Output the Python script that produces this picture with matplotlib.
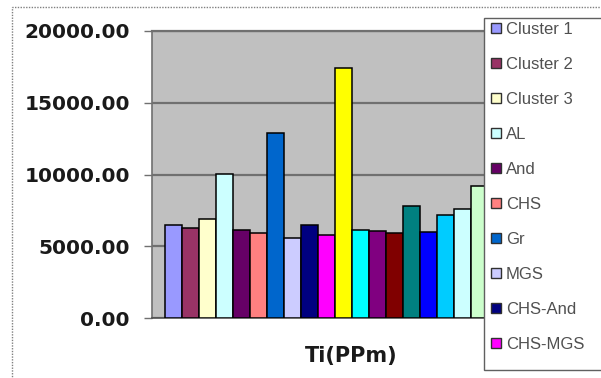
import matplotlib
matplotlib.use("Agg")
import matplotlib.pyplot as plt
from matplotlib.patches import Rectangle
from matplotlib.lines import Line2D

plt.rcParams['font.family'] = ['Liberation Sans', 'DejaVu Sans']

# Data
labels = ["Cluster 1", "Cluster 2", "Cluster 3", "AL", "And", "CHS", "Gr", "MGS",
          "CHS-And", "CHS-MGS", "s11", "s12", "s13", "s14", "s15", "s16", "s17", "s18", "s19"]
values = [6450, 6300, 6900, 10050, 6100, 5900, 12900, 5600, 6500, 5800,
          17450, 6150, 6080, 5950, 7800, 6000, 7200, 7600, 9200]
colors = ["#9999FF", "#993366", "#FFFFCC", "#CCFFFF", "#660066", "#FF8080", "#0066CC",
          "#CCCCFF", "#000080", "#FF00FF", "#FFFF00", "#00FFFF", "#800080", "#800000",
          "#008080", "#0000FF", "#00CCFF", "#CCFFFF", "#CCFFCC"]
legend_labels = labels[:10]
yticks = [0, 5000, 10000, 15000, 20000]
xlabel = "Ti(PPm)"

W, H = 601, 378
fig = plt.figure(figsize=(W / 100, H / 100), dpi=100)

# axes in pixel coords
axL, axR, axT, axB = 152, 550, 31, 318
ax = fig.add_axes([axL / W, 1 - axB / H, (axR - axL) / W, (axB - axT) / H])
ax.set_facecolor("#C0C0C0")

xs = list(range(len(values)))
ax.bar(xs, values, width=1.0, color=colors, edgecolor="black", linewidth=1.1, zorder=3)

# x-range: first bar centre at 173.5 px, 17 px per bar
px_per = 17.0
x0 = (axL - 173.5) / px_per
x1 = (axR - 173.5) / px_per
ax.set_xlim(x0, x1)
ax.set_ylim(0, 20000)
ax.set_yticks(yticks)
ax.set_yticklabels([f"{v:.2f}" for v in yticks], fontsize=14.5, fontweight="bold",
                   color="#1a1a1a", family="DejaVu Sans")
ax.set_xticks([])
ax.yaxis.grid(True, color="#707070", linewidth=1.6, zorder=1)
ax.set_axisbelow(True)
ax.tick_params(axis="y", direction="out", length=6, width=1.0, color="#707070", pad=10)
ax.spines["top"].set_color("#707070")
ax.spines["top"].set_linewidth(1.6)
ax.spines["right"].set_visible(False)
ax.spines["left"].set_color("#707070")
ax.spines["left"].set_linewidth(1.2)
ax.spines["bottom"].set_color("#505050")
ax.spines["bottom"].set_linewidth(1.2)
ax.set_xlabel(xlabel, fontsize=15, fontweight="bold", color="#1a1a1a",
              labelpad=20, family="DejaVu Sans")

# legend box (figure-level, covering part of plot area)
lx0, ly0, lx1, ly1 = 484, 18, 612, 370
fig.patches.append(Rectangle((lx0 / W, 1 - ly1 / H), (lx1 - lx0) / W, (ly1 - ly0) / H,
                             transform=fig.transFigure, facecolor="white",
                             edgecolor="#606060", linewidth=1.0, zorder=4))
handles = [Line2D([], [], marker="s", linestyle="none", markersize=6.5,
                  markerfacecolor=c, markeredgecolor="#303030", markeredgewidth=1.0)
           for c in colors[:10]]
leg = fig.legend(handles, legend_labels, loc="upper left",
                 bbox_to_anchor=((lx0 + 1) / W, 1 - (ly0 - 1) / H),
                 frameon=False, fontsize=12, labelspacing=1.2,
                 handlelength=0.7, handletextpad=0.25, borderaxespad=0, borderpad=0.3)
for t in leg.get_texts():
    t.set_color("#505050")
leg.set_zorder(5)

# outer dotted chart border
fig.patches.append(Rectangle((12 / W, -0.1), 2, 1 - 7 / H + 0.1,
                             transform=fig.transFigure, facecolor="none",
                             edgecolor="#808080", linewidth=1.0, linestyle=(0, (1, 1)), zorder=0))

fig.savefig("out.png", dpi=100, facecolor="white")
